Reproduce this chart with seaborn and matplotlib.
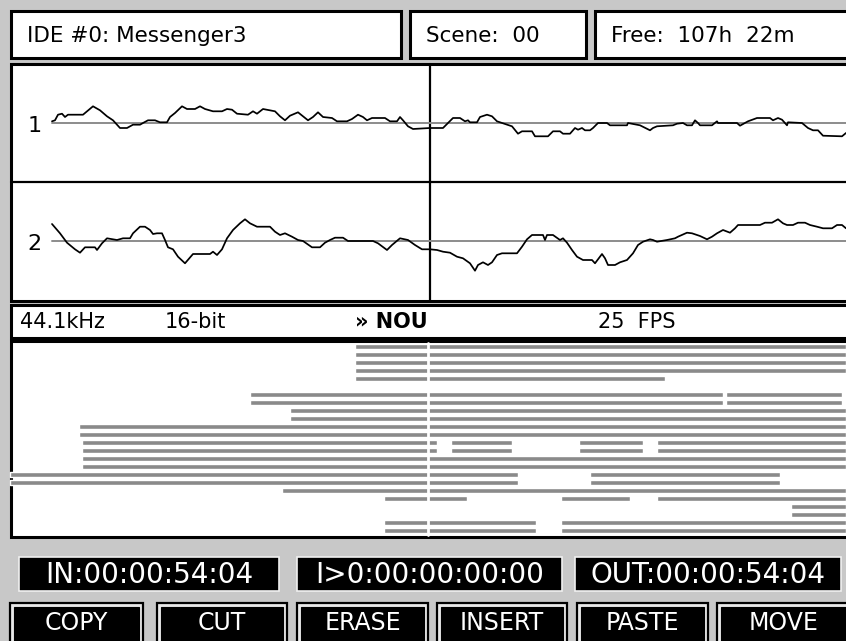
import numpy as np
import pandas as pd
import matplotlib
matplotlib.use("Agg")
import matplotlib.pyplot as plt
from matplotlib.patches import Rectangle
import seaborn as sns

# ============================================================
# Data
# ============================================================

header_texts = ["IDE #0: Messenger3", "Scene:  00", "Free:  107h  22m"]
status_texts = ["44.1kHz", "16-bit", "» NOU", "25  FPS"]
timecodes = ["IN:00:00:54:04", "I>0:00:00:00:00", "OUT:00:00:54:04"]
buttons = ["COPY", "CUT", "ERASE", "INSERT", "PASTE", "MOVE"]
track_names = ["1", "2"]

# waveform, track 1 (sample position, level)
wave1_x = [52, 55, 58, 62, 65, 68, 83, 87, 93, 100, 107, 113, 120, 127, 133, 140, 143, 148, 155, 160,
           167, 170, 175, 182, 187, 195, 200, 205, 213, 222, 227, 232, 237, 248, 253, 257, 263, 275, 280,
           285, 290, 298, 303, 308, 313, 318, 323, 332, 337, 347, 352, 358, 363, 367, 372, 385, 390, 397,
           400, 403, 408, 413, 430, 443, 448, 453, 460, 465, 468, 470, 477, 480, 487, 492, 497, 507, 512,
           518, 522, 532, 535, 548, 553, 560, 563, 570, 575, 578, 582, 585, 590, 593, 598, 607, 610, 627,
           628, 640, 650, 653, 657, 673, 677, 683, 687, 692, 695, 698, 700, 712, 717, 718, 737, 740, 748,
           757, 770, 773, 778, 782, 787, 788, 802, 808, 813, 818, 823, 842, 846]
wave1_y = [1.7, 2.7, 8.3, 9.3, 6, 8.3, 8.3, 11.7, 16.7, 12.7, 6.7, 2.7, -5, -5, -1.7, -1.7, 0, 2.7, 2.7, 0.7,
           0.7, 6, 10, 16.7, 14, 14, 16.7, 14, 11.7, 11.7, 14, 13.3, 9.3, 8.3, 11.7, 9.3, 14, 11.7, 6.7,
           2.7, 7.3, 10.7, 6.7, 2.7, 6, 10.7, 6, 5, 1.7, 1.7, 4, 8.3, 6, 2.7, 5, 5, 1.7, 1.7,
           6, 2.7, -3.3, -6, -5, -5, 0, 5, 5, 1.7, 2.7, 0.7, 0.7, 6, 8.3, 6.7, 1.7, -1.7, -3.3,
           -10.7, -8.3, -8.3, -13.3, -13.3, -8.3, -8.3, -10.7, -10.7, -5, -6.7, -5, -7.3, -7.3, -5, 0, 0, -2.3, -2.3,
           0, -2.3, -7.3, -5, -3.3, -2.3, -0.7, 0, -2.3, -2.3, 2.7, 0, -2.3, -2.3, 1.7, 0, 0, -2.7, 1.7,
           5, 5, 2.7, 5, 3.3, -2.3, 0.7, 0, -5, -7.3, -7.3, -12.7, -13.3, -10]

# waveform, track 2
wave2_x = [52, 60, 67, 75, 80, 85, 95, 97, 102, 107, 117, 123, 130, 133, 140, 145, 150, 153, 157, 162,
           165, 168, 173, 178, 185, 193, 210, 213, 217, 222, 227, 233, 240, 245, 250, 257, 270, 275, 280,
           285, 292, 298, 303, 312, 320, 325, 330, 335, 343, 348, 373, 378, 387, 392, 400, 408, 415, 422,
           430, 437, 443, 450, 457, 463, 470, 475, 478, 483, 488, 492, 497, 502, 517, 522, 527, 532, 543,
           545, 547, 553, 560, 563, 567, 572, 577, 583, 592, 595, 602, 605, 608, 615, 620, 627, 633, 638,
           643, 650, 653, 657, 667, 675, 678, 687, 692, 700, 707, 712, 717, 723, 730, 735, 738, 760, 765,
           772, 778, 783, 787, 793, 798, 805, 810, 817, 823, 832, 837, 842, 846]
wave2_y = [17, 7.7, -1.7, -8.3, -11.7, -6.3, -6.3, -9, -2.3, 2.7, 1, 2.7, 2.7, 7.7, 14.3, 14.3, 11, 7, 7.7, 7.7,
           1, -6.3, -8.3, -15.7, -22.3, -13, -13, -10.7, -14, -8.3, 2.7, 11, 17.7, 21.7, 17.7, 14.3, 14.3, 9.3, 6,
           7.7, 4.3, 1, 0, -6.3, -6.3, -1.7, 1, 3.3, 3.3, 0, 0, -2.3, -9, -4, 2.7, 1, -4, -8.3,
           -8.3, -9, -10.7, -11.7, -15.7, -17.3, -22.3, -29.7, -24, -21.3, -24, -21.3, -14, -12.3, -12.3, -5.7, 1.7, 6, 6,
           1, 6, 6, 1, 2.7, -1.7, -9, -15.7, -19, -19, -22.3, -13, -17.3, -24, -24, -21.3, -19, -12.3, -4,
           -0.7, 1.7, 1, -0.7, 1, 2.7, 4.3, 8.3, 7.7, 5, 1.7, 4.3, 7.7, 11, 8.3, 12.7, 16, 16, 18.3,
           18.3, 21.7, 17.7, 16, 16, 18.3, 18.3, 16, 14.3, 12.7, 12.7, 16, 16, 12.7]

# clip rows in the arrange view: list of (start, end) per row
clip_rows = [
    [(355, 846)], [(355, 846)], [(355, 846)], [(355, 846)], [(355, 665)],
    [],
    [(250, 723), (726, 842)], [(250, 723), (726, 842)],
    [(290, 846)], [(290, 846)],
    [(79, 846)], [(79, 846)],
    [(82, 437), (451, 512), (579, 643), (657, 846)], [(82, 437), (451, 512), (579, 643), (657, 846)],
    [(82, 846)], [(82, 846)],
    [(10, 518), (590, 780)], [(10, 518), (590, 780)],
    [(282, 846)],
    [(384, 467), (561, 630), (657, 846)],
    [(791, 846)], [(791, 846)],
    [(384, 536), (561, 846)], [(384, 536), (561, 846)],
]

BG = "#c8c8c8"
CLIP = "#8a8a8a"

sns.set_style("white")
plt.rcParams["font.family"] = ["DejaVu Sans"]
plt.rcParams["text.color"] = "black"

W, H = 846, 641
fig = plt.figure(figsize=(W / 100, H / 100), dpi=100)
fig.patch.set_facecolor(BG)

ax = fig.add_axes([0, 0, 1, 1])
ax.set_xlim(0, W)
ax.set_ylim(H, 0)
ax.axis("off")
ax.set_facecolor(BG)


def box(x0, y0, x1, y1, fc="white", ec="black", lw=2.2, z=1):
    ax.add_patch(Rectangle((x0, y0), x1 - x0, y1 - y0, facecolor=fc,
                           edgecolor=ec, linewidth=lw, zorder=z))


# ============================================================
# Header boxes
# ============================================================

header_boxes = [(11, 11, 401, 58), (410, 11, 586, 58), (595, 11, 852, 58)]
for (x0, y0, x1, y1), t in zip(header_boxes, header_texts):
    box(x0, y0, x1, y1)
    ax.text(x0 + 16, (y0 + y1) / 2 + 1, t, fontsize=15.5, va="center", ha="left", zorder=5)

# ============================================================
# Waveform panel
# ============================================================

box(11, 64, 852, 301)
ax.plot([11, 846], [182, 182], color="black", lw=1.6, zorder=3)

track_spans = [(65, 182), (183, 300)]
waves = [(wave1_x, wave1_y), (wave2_x, wave2_y)]
for (y0, y1), name, (wx, wy) in zip(track_spans, track_names, waves):
    wax = fig.add_axes([11 / W, 1 - y1 / H, (W - 11) / W, (y1 - y0) / H])
    wax.set_xlim(11, W)
    wax.set_ylim(-59, 58)
    wax.axis("off")
    wax.patch.set_alpha(0)
    wax.plot([52, W], [0, 0], color="#8c8c8c", lw=1.4, zorder=1)
    df = pd.DataFrame({"pos": wx, "level": wy})
    sns.lineplot(data=df, x="pos", y="level", ax=wax, color="black", lw=1.25,
                 estimator=None, sort=False, zorder=2)
    wax.text(0.028, 0.48, name, transform=wax.transAxes, fontsize=16,
             va="center", ha="center")

ax.plot([430, 430], [64, 300], color="black", lw=1.6, zorder=6)

# ============================================================
# Status bar
# ============================================================

box(11, 305, 852, 338)
status_x = [20, 165, 355, 598]
for x, t in zip(status_x, status_texts):
    ax.text(x, 322, t, fontsize=15, va="center", ha="left", zorder=5,
            fontweight="bold" if "NOU" in t else "normal")

# ============================================================
# Arrange view with clips
# ============================================================

box(11, 341, 852, 537)
for i, row in enumerate(clip_rows):
    yc = 346.7 + 8 * i
    if row:
        ax.broken_barh([(a, b - a) for a, b in row], (yc - 2.6, 5.2),
                       facecolors=CLIP, zorder=3)
ax.plot([428, 428], [343, 535], color="white", lw=2.0, zorder=4)

# ============================================================
# Timecode displays
# ============================================================

tc_boxes = [(19, 557, 279, 591), (297, 557, 562, 591), (575, 557, 841, 591)]
for (x0, y0, x1, y1), t in zip(tc_boxes, timecodes):
    box(x0, y0, x1, y1, fc="black", ec="#f0f0f0", lw=1.2)
    ax.text((x0 + x1) / 2, (y0 + y1) / 2 + 1, t, color="white", fontsize=20,
            va="center", ha="center", zorder=5)

# ============================================================
# Soft buttons
# ============================================================

btn_boxes = [(10, 603, 143), (157, 603, 287), (297, 603, 428),
             (437, 603, 567), (577, 603, 708), (717, 603, 850)]
for (x0, y0, x1), t in zip(btn_boxes, buttons):
    box(x0, y0, x1, 660, fc="#e8e8e8", ec="black", lw=1.6)
    box(x0 + 4, y0 + 4, x1 - 4, 660, fc="black", ec="black", lw=0.8)
    ax.text((x0 + x1) / 2, 623, t, color="white", fontsize=17,
            va="center", ha="center", zorder=5)

fig.savefig("out.png", dpi=100, facecolor=BG)
